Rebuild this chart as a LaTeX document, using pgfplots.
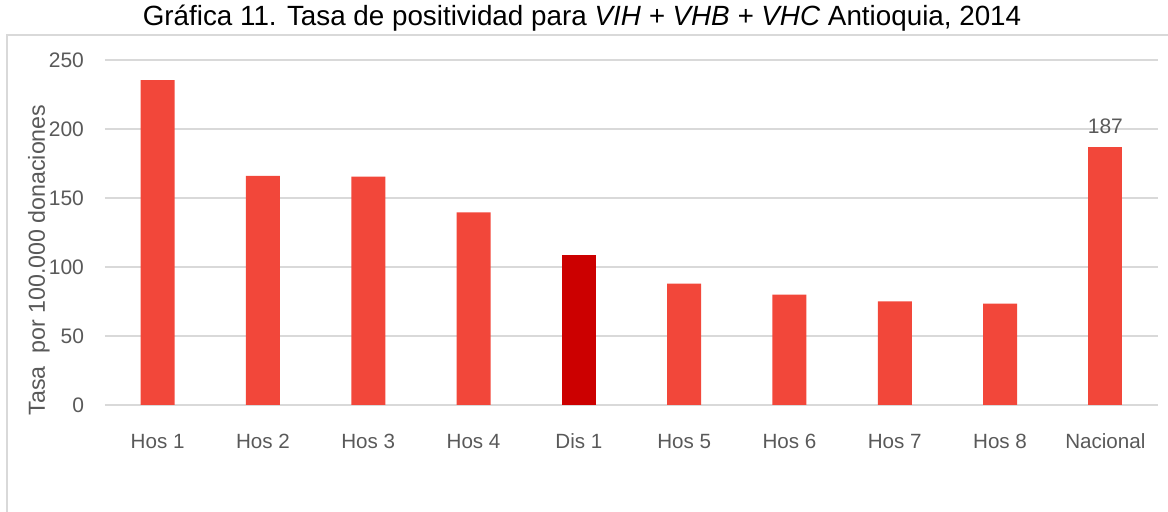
\documentclass[border=0pt]{standalone}
\usepackage{pgfplots}
\pgfplotsset{compat=1.18}
\usepackage{fontspec}
\setmainfont{Liberation Sans}
\definecolor{barred}{HTML}{F2473A}
\definecolor{bardark}{HTML}{CC0000}
\definecolor{gridgray}{HTML}{D9D9D9}
\definecolor{txtgray}{HTML}{595959}
\begin{document}
\begin{tikzpicture}[x=1pt,y=1pt]
\useasboundingbox (0,0) rectangle (584,256);
\clip (0,0) rectangle (584,256);
\draw[gridgray, line width=0.8pt] (3.5,-20) -- (3.5,238.5) -- (620,238.5);
\node[anchor=base, font=\fontsize{13.9}{16}\selectfont, text=black] at (291,243) {Gráfica 11. Tasa de positividad para \textit{VIH + VHB + VHC} Antioquia, 2014};
\begin{axis}[
  at={(52.5pt,53.5pt)}, anchor=south west,
  scale only axis, width=526.5pt, height=172.5pt,
  xmin=-0.5, xmax=9.5, ymin=0, ymax=250,
  ybar, bar width=17pt,
  axis line style={draw=none},
  ymajorgrids, grid style={gridgray, line width=0.6pt},
  ytick={0,50,...,250},
  xtick={0,...,9},
  xticklabels={Hos 1,Hos 2,Hos 3,Hos 4,Dis 1,Hos 5,Hos 6,Hos 7,Hos 8,Nacional},
  major tick length=0pt,
  tick label style={font=\fontsize{10.3}{12}\selectfont, text=txtgray},
  /pgf/number format/assume math mode=true,
  yticklabel style={xshift=-7pt, font=\fontsize{10.5}{12}\selectfont},
  xticklabel style={text height=8pt, text depth=2.5pt, yshift=-10pt},
  clip=false,
]
\draw[gridgray, line width=0.8pt] (axis cs:-0.5,0) -- (axis cs:9.5,0);
\addplot[fill=barred, draw=none, bar shift=0pt] coordinates {
  (0,235.5) (1,166) (2,165.5) (3,139.5) (5,88) (6,80) (7,75) (8,73.5)};
\addplot[fill=bardark, draw=none, bar shift=0pt] coordinates {(4,108.7)};
\addplot[fill=barred, draw=none, bar shift=0pt,
  nodes near coords, nodes near coords style={font=\fontsize{10.5}{12}\selectfont, text=txtgray, yshift=3pt},
  point meta=explicit symbolic] coordinates {(9,187) [187]};
\end{axis}
\node[rotate=90, font=\fontsize{11.6}{13}\selectfont, text=txtgray] at (19.5,126) {Tasa\ \ por 100.000 donaciones};
\end{tikzpicture}
\end{document}
